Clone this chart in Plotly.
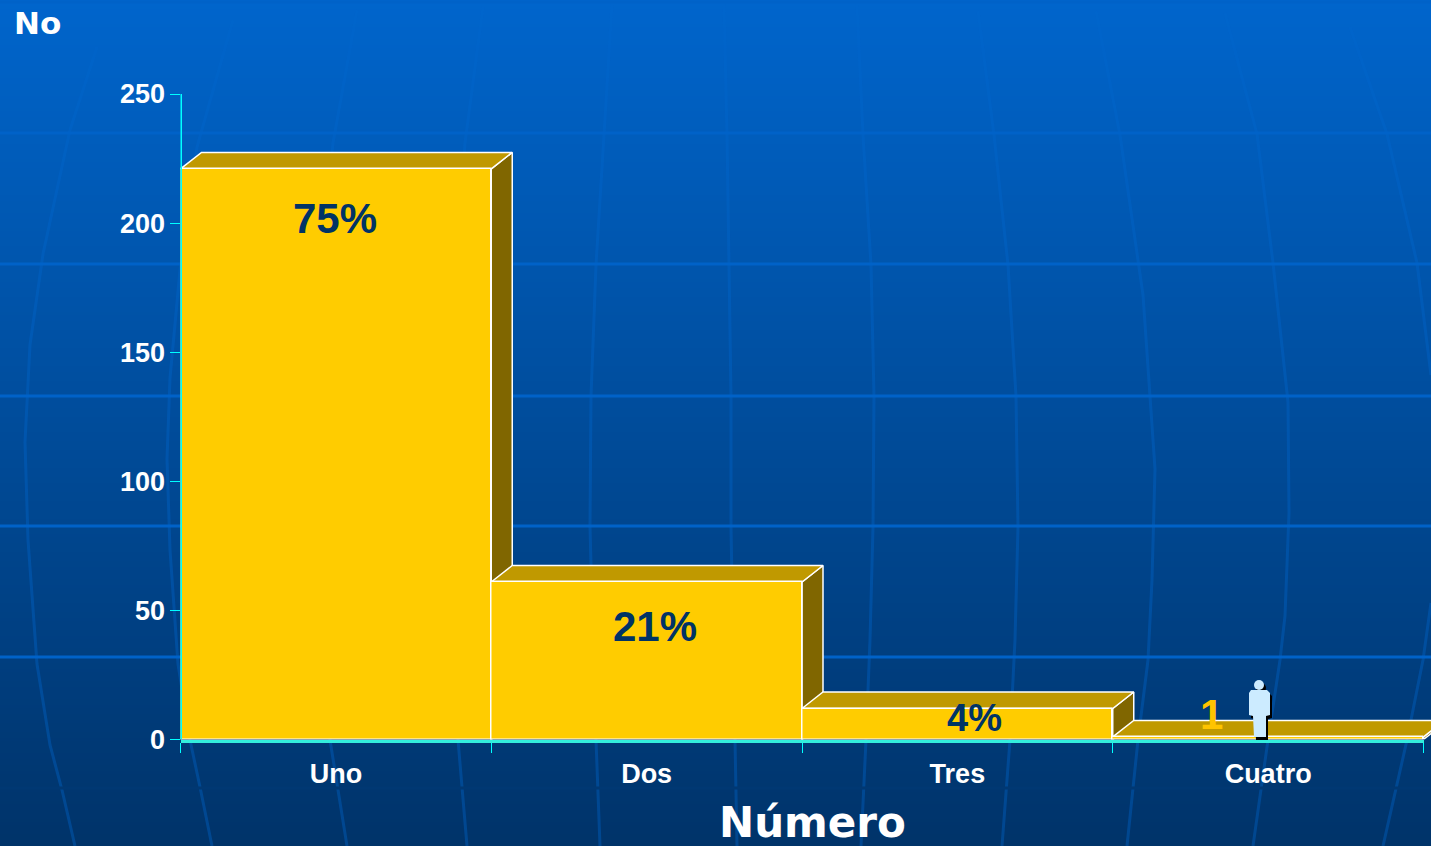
import plotly.graph_objects as go

# ---- data ----
categories = ["Uno", "Dos", "Tres", "Cuatro"]
values = [221, 61, 12, 1]
percent_labels = ["75%", "21%", "4%", "1"]
y_ticks = [0, 50, 100, 150, 200, 250]
y_title = "No"
x_title = "Número"

# ---- page geometry (pixels) ----
W, H = 1431, 846
LEFT, RIGHT, BOTTOM, TOP = 180.5, 1423.5, 739.5, 94
DEPTH_X_PX, DEPTH_Y_PX = 21, 16.5
unit_x = (RIGHT - LEFT) / 4
unit_y = (BOTTOM - TOP) / 250
DX = DEPTH_X_PX / unit_x
DY = DEPTH_Y_PX / unit_y


def px(x):
    return x / W


def py(y):
    return 1 - y / H


def path(points):
    return "M " + " L ".join(f"{px(x):.5f},{py(y):.5f}" for x, y in points)


# ---- decorative background ----
shapes = []
TOP_RGB, BOTTOM_RGB = (0, 101, 204), (0, 51, 105)
for y in range(0, H, 3):
    t = y / H
    g = round(TOP_RGB[1] + (BOTTOM_RGB[1] - TOP_RGB[1]) * t)
    b = round(TOP_RGB[2] + (BOTTOM_RGB[2] - TOP_RGB[2]) * t)
    shapes.append(dict(type="rect", xref="paper", yref="paper", x0=0, x1=1,
                       y0=0, y1=py(y), layer="below", line_width=0,
                       fillcolor=f"rgb(0,{g},{b})"))

meridians = [
    [(97, 47), (70, 130), (43, 254), (30, 345), (25, 442), (28, 540), (37, 664), (50, 745), (62, 790), (75, 846)],
    [(233, 20), (197, 147), (180, 270), (170, 378), (167, 459), (170, 550), (178, 664), (190, 740), (200, 787), (212, 846)],
    [(357, 10), (333, 143), (318, 300), (315, 450), (320, 600), (330, 740), (347, 846)],
    [(483, 7), (465, 143), (455, 300), (452, 450), (452, 600), (458, 740), (467, 846)],
    [(612, 4), (604, 135), (596, 265), (591, 396), (590, 527), (593, 640), (596, 740), (600, 846)],
    [(724, 4), (727, 135), (729, 265), (731, 396), (731, 527), (733, 640), (735, 740), (737, 846)],
    [(857, 4), (863, 135), (871, 265), (874, 396), (873, 527), (870, 640), (866, 740), (861, 846)],
    [(978, 11), (994, 135), (1008, 265), (1016, 396), (1018, 527), (1015, 640), (1010, 740), (1002, 846)],
    [(1096, 11), (1120, 135), (1143, 295), (1155, 469), (1152, 580), (1148, 660), (1138, 740), (1127, 846)],
    [(1225, 13), (1257, 134), (1273, 263), (1288, 402), (1289, 513), (1285, 616), (1280, 660), (1268, 740), (1253, 846)],
    [(1350, 27), (1387, 134), (1417, 263), (1431, 375)],
    [(1431, 603), (1423, 660), (1407, 740), (1383, 846)],
]
for m in meridians:
    shapes.append(dict(type="path", xref="paper", yref="paper", path=path(m), layer="below",
                       line=dict(color="rgba(0,102,204,0.38)", width=3), fillcolor="rgba(0,0,0,0)"))
for y in [2, 133, 264, 396, 526, 657]:
    shapes.append(dict(type="line", xref="paper", yref="paper", x0=0, x1=1, y0=py(y), y1=py(y),
                       layer="below", line=dict(color="rgb(0,98,200)", width=3)))
shapes.append(dict(type="line", xref="paper", yref="paper", x0=0, x1=1, y0=py(788), y1=py(788),
                   layer="below", line=dict(color="rgb(0,56,115)", width=3)))

# ---- small standing figure ----
def figure_shapes(dx, dy, color):
    out = [
        dict(type="circle", x0=px(1254 + dx), x1=px(1264 + dx), y0=py(690 + dy), y1=py(680 + dy)),
        dict(type="path", path=path([(1251 + dx, 690 + dy), (1267 + dx, 690 + dy), (1270 + dx, 693 + dy),
                                     (1270 + dx, 715 + dy), (1266 + dx, 716 + dy), (1266 + dx, 737 + dy),
                                     (1254 + dx, 737 + dy), (1253 + dx, 716 + dy), (1249 + dx, 715 + dy),
                                     (1249 + dx, 693 + dy)]) + " Z"),
    ]
    for s in out:
        s.update(xref="paper", yref="paper", layer="above", line_width=0, fillcolor=color)
    return out


shapes += figure_shapes(2, 3, "#000000")
shapes += figure_shapes(0, 0, "#CCEBFF")

# vertical axis line, kept level with the tick marks and above the first bar's edge
shapes.append(dict(type="line", xref="x", yref="y", x0=-0.5, x1=-0.5, y0=0, y1=250, layer="above",
                   line=dict(color="#00FFFF", width=3)))

# ---- traces ----
fig = go.Figure()
WHITE_EDGE = dict(color="#FFFFFF", width=1.5)
for i, v in enumerate(values):
    x0, x1 = i - 0.5, i + 0.5
    fig.add_trace(go.Scatter(
        x=[x1, x1 + DX, x1 + DX, x1, x1], y=[0, DY, v + DY, v, 0],
        mode="lines", fill="toself", fillcolor="#806600", line=WHITE_EDGE,
        cliponaxis=False, hoverinfo="skip", showlegend=False, xaxis="x", yaxis="y"))
    fig.add_trace(go.Scatter(
        x=[x0, x0 + DX, x1 + DX, x1, x0], y=[v, v + DY, v + DY, v, v],
        mode="lines", fill="toself", fillcolor="#C09900", line=WHITE_EDGE,
        cliponaxis=False, hoverinfo="skip", showlegend=False, xaxis="x", yaxis="y"))

fig.add_trace(go.Bar(
    x=categories, y=values, width=1, xaxis="x2", yaxis="y",
    marker=dict(color="#FFCC00", line=WHITE_EDGE), showlegend=False, cliponaxis=False))

# ---- text ----
label_pos = [(-0.003, 201.6), (1.026, 43.6), (2.055, 8.3), (2.818, 9.5)]
label_size = [42, 42, 38, 42]
label_color = ["#003366", "#003366", "#003366", "#FFC400"]
annotations = []
for t, (xp, yp), s, c in zip(percent_labels, label_pos, label_size, label_color):
    annotations.append(dict(text=t, x=xp, y=yp, xref="x", yref="y", showarrow=False,
                            xanchor="center", yanchor="middle",
                            font=dict(family="Liberation Sans", size=s, color=c, weight="bold")))
annotations.append(dict(text=y_title, x=px(37.5), y=py(23), xref="paper", yref="paper", showarrow=False,
                        xanchor="center", yanchor="middle",
                        font=dict(family="DejaVu Sans", size=31, color="#FFFFFF", weight="bold")))
annotations.append(dict(text=x_title, x=px(812), y=py(822), xref="paper", yref="paper", showarrow=False,
                        xanchor="center", yanchor="middle",
                        font=dict(family="DejaVu Sans", size=42, color="#FFFFFF", weight="bold")))

tick_font = dict(family="Liberation Sans", size=27, color="#FFFFFF", weight="bold")
fig.update_layout(
    width=W, height=H, autosize=False, margin=dict(l=0, r=0, t=0, b=0, pad=0, autoexpand=False),
    paper_bgcolor="#00336B", plot_bgcolor="rgba(0,0,0,0)",
    showlegend=False, bargap=0, shapes=shapes, annotations=annotations,
    xaxis=dict(domain=[px(LEFT), 1], range=[-0.5, -0.5 + (W - LEFT) / unit_x], visible=False, fixedrange=True),
    xaxis2=dict(domain=[px(LEFT), px(RIGHT)], anchor="y", side="bottom", type="category",
                categoryorder="array", categoryarray=categories, range=[-0.5, 3.5],
                tickson="boundaries", ticks="outside", ticklen=10, tickwidth=1, tickcolor="#00FFFF",
                showline=True, linecolor="#33EEDD", linewidth=3, showgrid=False, zeroline=False,
                tickfont=tick_font, ticklabelstandoff=8, fixedrange=True),
    yaxis=dict(domain=[py(BOTTOM), py(TOP)], range=[0, 250], tickvals=y_ticks, anchor="x",
               ticks="outside", ticklen=10, tickwidth=1, tickcolor="#00FFFF",
               showline=False, showgrid=False, zeroline=False,
               tickfont=tick_font, ticklabelstandoff=-1, fixedrange=True),
)

fig.write_html("out.html", config=dict(displayModeBar=False),
               post_script="document.documentElement.style.overflow='hidden';"
                           "document.body.style.margin='0';document.body.style.overflow='hidden';")
